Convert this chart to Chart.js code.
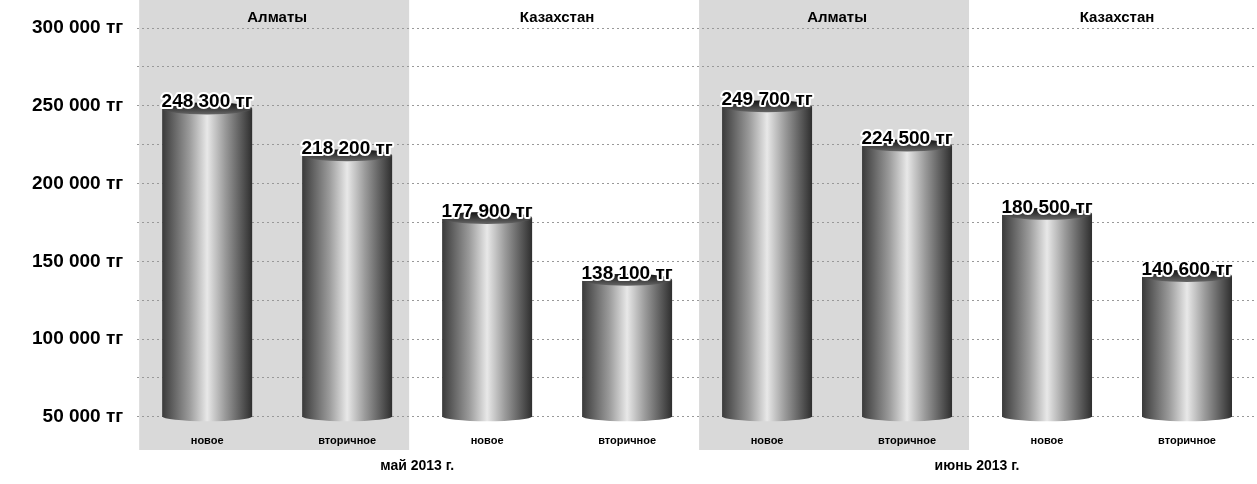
<!DOCTYPE html>
<html><head><meta charset="utf-8">
<script src="https://cdn.jsdelivr.net/npm/chart.js@4.4.0/dist/chart.umd.min.js"></script>
<style>html,body{margin:0;background:#fff}#wrap{width:1257px;height:484px}</style>
</head><body><div id="wrap"><canvas id="c"></canvas></div>
<script>
const categories = ["новое","вторичное","новое","вторичное","новое","вторичное","новое","вторичное"];
const prices = [248300, 218200, 177900, 138100, 249700, 224500, 180500, 140600];
const regions = ["Алматы","Казахстан","Алматы","Казахстан"];
const months = ["май 2013 г.","июнь 2013 г."];
const yTicks = [50000,75000,100000,125000,150000,175000,200000,225000,250000,275000,300000];

const fmt = v => String(v).replace(/\B(?=(\d{3})+(?!\d))/g, " ") + " тг";
const F = "'Liberation Sans', Arial, sans-serif";

const decor = {
  id: "decor",
  beforeDraw(chart) {
    const {ctx, scales: {x}} = chart;
    ctx.save();
    ctx.fillStyle = "#d9d9d9";
    [0, 4].forEach(i => {
      const l = (x.getPixelForValue(i) + x.getPixelForValue(i - 1)) / 2 + 2;
      const r = (x.getPixelForValue(i + 1) + x.getPixelForValue(i + 2)) / 2 - 8;
      ctx.fillRect(l, 0, r - l, 450);
    });
    ctx.restore();
  },
  afterDatasetsDraw(chart) {
    const {ctx, scales: {x}} = chart;
    const meta = chart.getDatasetMeta(0);
    ctx.save();
    meta.data.forEach((b, i) => {
      const w = b.width, l = b.x - w / 2, top = b.y, bot = b.base;
      const g = ctx.createLinearGradient(l, 0, l + w, 0);
      g.addColorStop(0, "#3a3a3a"); g.addColorStop(0.3, "#9a9a9a");
      g.addColorStop(0.5, "#e8e8e8"); g.addColorStop(0.7, "#9a9a9a");
      g.addColorStop(1, "#2e2e2e");
      ctx.fillStyle = g;
      ctx.beginPath();
      ctx.moveTo(l, top);
      ctx.lineTo(l, bot);
      ctx.ellipse(b.x, bot, w / 2, 5, 0, Math.PI, 0, true);
      ctx.lineTo(l + w, top);
      ctx.closePath();
      ctx.fill();
      const tg = ctx.createLinearGradient(0, top - 6, 0, top + 6);
      tg.addColorStop(0, "#111"); tg.addColorStop(1, "#666");
      ctx.fillStyle = tg;
      ctx.beginPath(); ctx.ellipse(b.x, top, w / 2, 6, 0, 0, Math.PI * 2); ctx.fill();
      ctx.font = "bold 19px " + F;
      ctx.textAlign = "center"; ctx.textBaseline = "bottom";
      ctx.lineWidth = 4; ctx.strokeStyle = "#fff"; ctx.lineJoin = "round";
      ctx.strokeText(fmt(prices[i]), b.x, top + 3);
      ctx.fillStyle = "#000";
      ctx.fillText(fmt(prices[i]), b.x, top + 3);
    });
    ctx.font = "bold 15px " + F; ctx.textBaseline = "middle"; ctx.fillStyle = "#000";
    regions.forEach((r, k) => {
      const cx = (x.getPixelForValue(2 * k) + x.getPixelForValue(2 * k + 1)) / 2;
      ctx.fillText(r, cx, 18);
    });
    ctx.font = "bold 14px " + F;
    months.forEach((m, k) => {
      const cx = (x.getPixelForValue(4 * k + 1) + x.getPixelForValue(4 * k + 2)) / 2;
      ctx.fillText(m, cx, 466);
    });
    ctx.restore();
  }
};

new Chart(document.getElementById("c"), {
  type: "bar",
  data: { labels: categories, datasets: [{ data: prices, base: 50000, backgroundColor: "rgba(0,0,0,0)", barThickness: 90 }] },
  options: {
    responsive: true, maintainAspectRatio: false, animation: false,
    layout: { padding: { top: 28, right: 0, bottom: 26, left: 18 } },
    plugins: { legend: { display: false }, tooltip: { enabled: false } },
    scales: {
      x: {
        grid: { display: false }, border: { display: false },
        ticks: { color: "#000", font: { family: F, weight: "bold", size: 11 }, padding: 10, maxRotation: 0, autoSkip: false }
      },
      y: {
        min: 50000, max: 300000,
        afterBuildTicks: s => { s.ticks = yTicks.map(v => ({ value: v })); },
        grid: { color: "#999", drawTicks: false },
        border: { display: false, dash: [2, 3] },
        ticks: {
          color: "#000", font: { family: F, weight: "bold", size: 19 }, padding: 14,
          callback: v => v % 50000 === 0 ? fmt(v) : ""
        }
      }
    }
  },
  plugins: [decor]
});
</script></body></html>
